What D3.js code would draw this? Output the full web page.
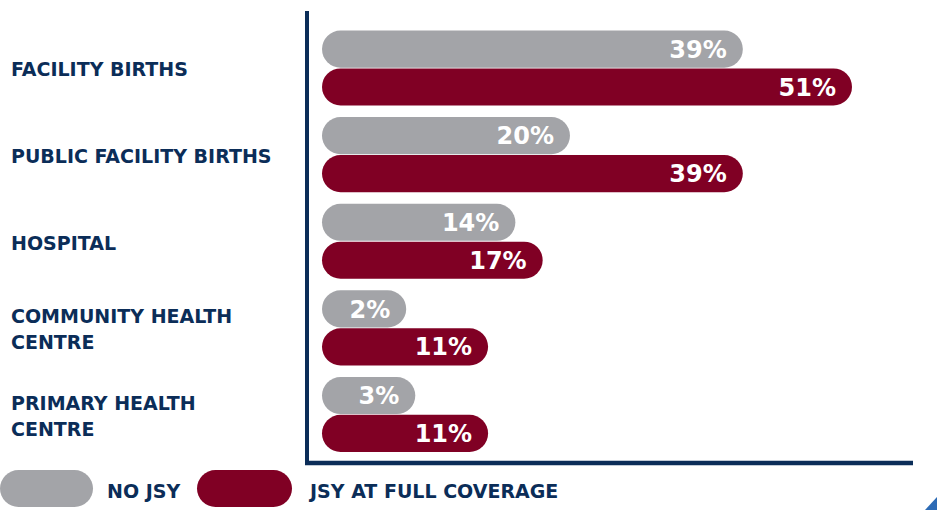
<!DOCTYPE html>
<html>
<head>
<meta charset="utf-8">
<script src="https://cdn.jsdelivr.net/npm/d3@7"></script>
<style>
  body { margin: 0; background: #fff; }
  svg { display: block; }
  text { font-family: "DejaVu Sans", sans-serif; font-weight: bold; }
</style>
</head>
<body>
<svg width="937" height="510"></svg>
<script>
// categories (two-line labels split on "|")
var categories = ["FACILITY BIRTHS", "PUBLIC FACILITY BIRTHS", "HOSPITAL",
                  "COMMUNITY HEALTH|CENTRE", "PRIMARY HEALTH|CENTRE"];
var seriesNames = ["NO JSY", "JSY AT FULL COVERAGE"];
var noJsy = [39, 20, 14, 2, 3];
var jsyFull = [51, 39, 17, 11, 11];

var colors = ["#a3a4a8", "#800024"];
var navy = "#0b2d58";

var svg = d3.select("svg");

var data = categories.map(function(c, i) {
    return {cat: c, values: [noJsy[i], jsyFull[i]]};
});

// scales
var barStart = 322;
var x = d3.scaleLinear().domain([0, 51]).range([388, 852]);
var y = d3.scaleBand().domain(categories).range([30.5, 452]).paddingInner(0.134);
var y1 = d3.scaleBand().domain(seriesNames).range([0, y.bandwidth()]).paddingInner(0.02);
var h = y1.bandwidth();

// axis lines
svg.append("line")
    .attr("x1", 307).attr("x2", 307).attr("y1", 11).attr("y2", 465)
    .attr("stroke", navy).attr("stroke-width", 4);
svg.append("line")
    .attr("x1", 305).attr("x2", 913).attr("y1", 463).attr("y2", 463)
    .attr("stroke", navy).attr("stroke-width", 4.5);

// groups
var group = svg.selectAll(".group")
    .data(data)
    .enter().append("g")
    .attr("class", "group")
    .attr("transform", function(d) { return "translate(0," + y(d.cat) + ")"; });

var bar = group.selectAll(".bar")
    .data(function(d) { return d.values.map(function(v, i) { return {key: seriesNames[i], i: i, v: v}; }); })
    .enter().append("g")
    .attr("class", "bar");

bar.append("rect")
    .attr("x", barStart)
    .attr("y", function(d) { return y1(d.key); })
    .attr("width", function(d) { return x(d.v) - barStart; })
    .attr("height", h)
    .attr("rx", h / 2)
    .attr("fill", function(d) { return colors[d.i]; });

bar.append("text")
    .attr("x", function(d) { return x(d.v) - 16; })
    .attr("y", function(d) { return y1(d.key) + h / 2; })
    .attr("dy", "0.36em")
    .attr("text-anchor", "end")
    .attr("fill", "#fff")
    .style("font-size", "24px")
    .text(function(d) { return d.v + "%"; });

// category labels
group.append("text")
    .attr("fill", navy)
    .style("font-size", "19px")
    .each(function(d) {
        var lines = d.cat.split("|");
        var t = d3.select(this);
        var lh = 26.5;
        var mid = y.bandwidth() / 2 + 1.5;
        lines.forEach(function(line, k) {
            t.append("tspan")
                .attr("x", 11)
                .attr("y", mid + (k - (lines.length - 1) / 2) * lh)
                .attr("dy", "0.36em")
                .text(line);
        });
    });

// legend
var legend = [
    {name: seriesNames[0], color: colors[0], px: 0, pw: 93, tx: 107},
    {name: seriesNames[1], color: colors[1], px: 197, pw: 95, tx: 310}
];
var lg = svg.selectAll(".legend")
    .data(legend)
    .enter().append("g")
    .attr("class", "legend");
lg.append("rect")
    .attr("x", function(d) { return d.px; })
    .attr("y", 470)
    .attr("width", function(d) { return d.pw; })
    .attr("height", 37)
    .attr("rx", 18.5)
    .attr("fill", function(d) { return d.color; });
lg.append("text")
    .attr("x", function(d) { return d.tx; })
    .attr("y", 498)
    .attr("fill", navy)
    .style("font-size", "19px")
    .text(function(d) { return d.name; });

// little corner mark bottom right
svg.append("path")
    .attr("d", "M937,497 L937,510 L925,510 Z")
    .attr("fill", "#2d6bb5");
</script>
</body>
</html>
